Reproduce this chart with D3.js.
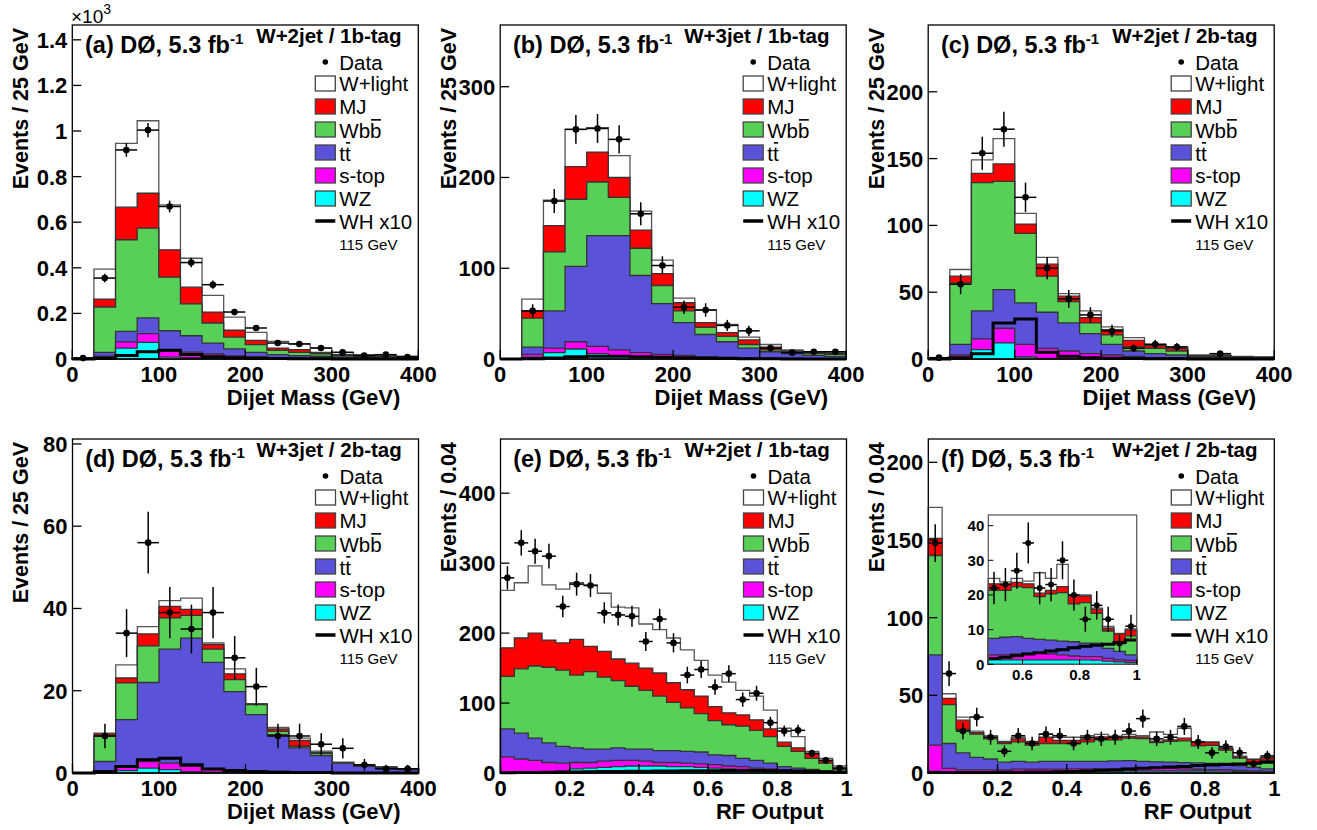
<!DOCTYPE html>
<html><head><meta charset="utf-8">
<script src="https://cdn.jsdelivr.net/npm/d3@7"></script>
<style>
body{margin:0;background:#fff}
svg{display:block}
text{font-family:"Liberation Sans",Arial,Helvetica,sans-serif}
</style>
</head><body>
<svg id="c" width="1317" height="830"></svg>
<script>
// ---------------- DATA ----------------
const massEdges = [0,25,50,75,100,125,150,175,200,225,250,275,300,325,350,375,400];
const rfEdges = [0,0.04,0.08,0.12,0.16,0.2,0.24,0.28,0.32,0.36,0.4,0.44,0.48,0.52,0.56,0.6,0.64,0.68,0.72,0.76,0.8,0.84,0.88,0.92,0.96,1];

const legendLabels = ["Data","W+light","MJ","Wbb","tt","s-top","WZ","WH x10","115 GeV"];

// (a) W+2jet / 1b-tag, dijet mass
const aWZ     = [0,5,48,73,8,6,4,3,2,1,1,1,0,0,0,0];
const aSTop   = [0,7,27,38,27,24,18,11,8,5,4,3,3,2,1,1];
const aTT     = [1,17,46,69,89,72,48,30,19,13,10,8,6,4,4,3];
const aWbb    = [1,199,402,394,235,140,88,52,34,19,14,11,6,4,3,3];
const aMJ     = [1,35,143,153,120,73,48,30,19,10,12,6,4,3,2,2];
const aWlight = [1,131,280,318,197,127,73,58,35,29,25,19,10,6,5,3];
const aWH     = [0,3,15,32,38,20,10,5,3,2,1,1,0.5,0,0,0];
const aData   = [4,355,917,1004,669,423,326,206,136,70,66,48,29,15,19,9];

// (b) W+3jet / 1b-tag
const bWZ     = [0,2,7,11,6,3,2,1,1,0,0,0,0,0,0,0];
const bSTop   = [0,3,5,8,8,7,5,4,3,2,2,1,1,1,0,0];
const bTT     = [0,8,41,83,122,126,85,56,36,25,17,11,7,5,4,3];
const bWbb    = [0,32,65,74,59,42,30,20,13,8,6,4,2,2,2,2];
const bMJ     = [0,8,29,36,33,22,20,13,9,5,4,5,3,1,1,1];
const bWlight = [0,13,28,41,27,24,21,15,5,14,9,3,3,1,1,1];
const bWH     = [0,0.3,1,2.5,3,3,2.5,2,1.5,1,0.5,0.3,0.2,0.1,0,0];
const bData   = [0,53,174,253,254,242,160,103,57,54,37,31,12,7,8,8];

// (c) W+2jet / 2b-tag
const cWZ     = [0,1,7,12,1.5,0.5,0.3,0.2,0.1,0,0,0,0,0,0,0];
const cSTop   = [0,2,8,11,9.5,7.5,5.7,3.8,2.9,2,1,1,0.5,0.5,0.3,0.2];
const cTT     = [0,8,21,29,31,27,21,15,8,4,3,2,1,1,0.7,0.5];
const cWbb    = [0,46,96,81,52,27,16,8,7,3,4,3,0.5,0.5,0.5,0.3];
const cMJ     = [0,5,7,13,7,9,4,4,4,5,2,2,0.5,0.5,0.3,0.3];
const cWlight = [1,5,10,19,8,5,2,5,2,2,1,1,0.5,0.5,0.2,0.2];
const cWH     = [0,1,4,27,30,5,2,1,0.5,0.3,0.2,0.1,0,0,0,0];
const cData   = [1,56,154,172,121,68,45,33,21,8,11,9,0,4,0,0];

// (d) W+3jet / 2b-tag
const dWZ     = [0,0.2,0.6,1.2,0.8,0.3,0.2,0.1,0.1,0,0,0,0,0,0,0];
const dSTop   = [0,0.3,1.2,1.6,1.6,1.3,0.8,0.7,0.4,0.4,0.3,0.2,0.1,0.1,0.1,0];
const dTT     = [0,2.3,11.2,19.2,27.7,31.2,25.9,19,13.7,8.9,5.8,4,2.3,1.5,1.1,0.8];
const dWbb    = [0,6.1,8.9,8.9,7.6,5.5,3.2,2.9,2.4,0.8,0.4,0.5,0.1,0.1,0.1,0.1];
const dMJ     = [0,0.6,1.2,2.9,2.8,1.5,1.1,1.4,0.2,0.6,1.4,0.3,0.1,0.1,0.2,0.1];
const dWlight = [0,0.2,3.2,1.8,1.4,2.7,0.4,1.2,0,0.4,0.6,0.3,0,0,0,0];
const dWH     = [0,0.3,1.6,3.2,3.6,2.0,1.0,0.6,0.3,0.2,0.1,0.1,0,0,0,0];
const dData   = [0,9,34,56,39,35,39,28,21,9,9,7,6,2,1,1];

// (e) W+2jet / 1b-tag, RF output
const eWZ     = [1,1,1.5,2,3,6,7,8,9,10,10,10,9,9,8,7,6,5,4,3,2,1.5,1,0.5,0.3];
const eSTop   = [22,19,16.5,13,11,9,8,9,9,8,7,5,6,5,5,5,4,4,3,3,2,1,0.5,0.5,0.2];
const eTT     = [40,37,32,28,24,21,19,17,18,16,17,17,17,17,17,14,15,12,11,8,5,4.5,3.5,1.5,0.7];
const eWbb    = [75,92,103,108,109,104,111,103,96,90,84,78,69,62,55,49,44,46,43,38,29,24,16,11.5,3.8];
const eMJ     = [41,44,47,39,39,51,36,37,31,33,32,33,28,26,25,20,17,16,15,11,6,5,7,4,2];
const eWlight = [82,79,96,79,77,81,88,83,74,79,63,62,64,57,51,45,44,35,34,27,20,16,3,3,3];
const eWH     = [0.5,0.6,0.8,1,1.2,1.5,1.8,2,2.2,2.4,2.6,2.8,3,3.1,3.2,3.3,3.4,3.4,3.4,3.3,3.1,2.8,2.4,1.8,1.2];
const eData   = [279,329,317,310,238,270,268,229,226,224,188,220,186,140,148,123,142,105,114,72,60,61,28,18,7];

// (f) W+2jet / 2b-tag, RF output
const fWZ     = [1,0.5,0.5,0.5,0.5,0.5,0.5,0.5,0.8,1,1,1.2,1.3,1.3,1.3,1.3,1.3,1.3,1.3,1.3,1.3,1.2,0.9,0.7,0.5];
const fSTop   = [17,2.5,1.5,1.5,1.5,1.5,2,2,1.7,1.5,1.7,1.5,1.4,1.4,1.7,1.9,1.9,1.7,1.4,1.1,0.9,1.0,0.8,0.6,0.6];
const fTT     = [58,16,11,8,7,5,5,4.5,5,5,4.8,4.8,4.8,5.1,5.0,4.3,4.0,4.0,4.0,4.1,3.9,3.9,2.9,2.4,1.6];
const fWbb    = [64,25,15,15,13,12,12.5,11,11.5,11.5,11.5,12.5,13.8,13.5,14.4,14.6,12.3,13.3,14.0,10.9,11.7,8.6,5.0,2.4,5.5];
const fMJ     = [11,4,6,1,1,1,2,2,4,2,2,2,1.9,1.9,1.2,1.1,1.0,1.0,1.7,2.3,1.9,1.2,0.8,2.7,1.7];
const fWlight = [20,3,2,1,1,0.3,1,0.3,2,2,2,2,1.6,0.6,1.2,0.8,5.9,3.5,6.4,0.3,0.3,0.3,0.5,0.1,0.3];
const fWH     = [0.3,0.3,0.3,0.4,0.4,0.5,0.5,0.6,0.7,0.8,1.0,1.3,1.7,2.0,2.5,3.0,3.3,3.8,4.2,4.8,5.2,5.5,5.8,6.3,7.0];
const fData   = [148,64,27,36,23,14,24,19,25,24,19,23,22,23,27,35,22,23,30,20,13,17,13,6,11];

const massTicks = [0,100,200,300,400];
const rfTicks = [0,0.2,0.4,0.6,0.8,1];
const insetXTicks = [0.6,0.8,1];
const insetYTicks = [0,10,20,30,40];

// ---------------- STYLE ----------------
const keys = ["wz","stop","tt","wbb","mj","wl"];
const fills = {wz:"#00ffff", stop:"#ff00ff", tt:"#5a52d8", wbb:"#58d058", mj:"#ff0000", wl:"#ffffff"};

const svg = d3.select("#c");
svg.append("rect").attr("width",1317).attr("height",830).attr("fill","#fff");

function mkLayers(wz,st,tt,wbb,mj,wl){return {wz,stop:st,tt,wbb,mj,wl};}

function drawStack(g, x, y, edges, L, wh, data, i0, i1, opt){
  opt = opt || {};
  const rows = d3.range(i0,i1).map(i => {
    const r = {x0: edges[i], x1: edges[i+1]};
    keys.forEach(k => r[k] = L[k][i]);
    return r;
  });
  const series = d3.stack().keys(keys)(rows);
  const area = d3.area().x(p => x(p[0])).y0(y(0)).y1(p => y(p[1]));
  series.slice().reverse().forEach(s => {
    const pts = [];
    s.forEach(d => { pts.push([d.data.x0, d[1]]); pts.push([d.data.x1, d[1]]); });
    g.append("path").attr("d", area(pts))
      .attr("fill", fills[s.key])
      .attr("stroke", s.key === "wl" ? "#555" : "#333")
      .attr("stroke-width", 1.3);
  });
  const line = d3.line().x(p => x(p[0])).y(p => y(p[1]));
  const wpts = [];
  d3.range(i0,i1).forEach(i => { wpts.push([edges[i], wh[i]]); wpts.push([edges[i+1], wh[i]]); });
  g.append("path").attr("d", line(wpts)).attr("fill","none").attr("stroke","#000").attr("stroke-width",3);
  const r = opt.r || 3.3;
  d3.range(i0,i1).forEach(i => {
    const v = data[i];
    if (!(v > 0)) return;
    const e = Math.sqrt(v);
    const xc = x((edges[i]+edges[i+1])/2);
    g.append("line").attr("x1",x(edges[i])).attr("x2",x(edges[i+1])).attr("y1",y(v)).attr("y2",y(v))
      .attr("stroke","#000").attr("stroke-width",1.5);
    g.append("line").attr("x1",xc).attr("x2",xc).attr("y1",y(Math.max(0,v-e))).attr("y2",y(v+e))
      .attr("stroke","#000").attr("stroke-width",1.5);
    g.append("circle").attr("cx",xc).attr("cy",y(v)).attr("r",r).attr("fill","#000");
  });
}

function barText(g, x, yb, label, size){
  const t = g.append("text").attr("x",x).attr("y",yb).attr("font-size",size).text(label);
  const n = label.length;
  const node = t.node();
  const w0 = node.getSubStringLength(0, n-1);
  const w1 = node.getSubStringLength(n-1, 1);
  const by = yb - size*0.86;
  g.append("line").attr("x1",x+w0+1).attr("x2",x+w0+w1-0.5).attr("y1",by).attr("y2",by)
    .attr("stroke","#000").attr("stroke-width",1.6);
}

function legend(g, left, top){
  const bx = left + 243, tx = left + 267, fs = 20.5;
  g.append("circle").attr("cx",bx+10).attr("cy",top+37).attr("r",2.8).attr("fill","#000");
  g.append("text").attr("x",tx).attr("y",top+44.5).attr("font-size",fs).text(legendLabels[0]);
  const boxKeys = ["wl","mj","wbb","tt","stop","wz"];
  boxKeys.forEach((k,i) => {
    const byy = top + 51 + 23*i;
    g.append("rect").attr("x",bx).attr("y",byy).attr("width",20).attr("height",15)
      .attr("fill",fills[k]).attr("stroke","#444").attr("stroke-width",1.3);
    if (k === "wbb" || k === "tt") barText(g, tx, byy+15.5, legendLabels[i+1], fs);
    else g.append("text").attr("x",tx).attr("y",byy+15).attr("font-size",fs).text(legendLabels[i+1]);
  });
  const yWH = top + 51 + 23*6 + 7;
  g.append("line").attr("x1",bx).attr("x2",bx+20).attr("y1",yWH).attr("y2",yWH).attr("stroke","#000").attr("stroke-width",3.5);
  g.append("text").attr("x",tx).attr("y",yWH+8).attr("font-size",fs).text(legendLabels[7]);
  g.append("text").attr("x",tx).attr("y",top+225).attr("font-size",15).text(legendLabels[8]);
}

function panel(p){
  const W = 346, H = 334;
  const g = svg.append("g");
  const x = d3.scaleLinear().domain(p.xDomain).range([p.left, p.left+W]);
  const y = d3.scaleLinear().domain([0, p.yMax]).range([p.top+H, p.top]);
  const n = p.edges.length - 1;
  drawStack(g, x, y, p.edges, p.layers, p.wh, p.data, 0, n);
  g.append("rect").attr("x",p.left).attr("y",p.top).attr("width",W).attr("height",H)
    .attr("fill","none").attr("stroke","#000").attr("stroke-width",1.3);
  p.yTicks.forEach(t => {
    g.append("line").attr("x1",p.left).attr("x2",p.left+9).attr("y1",y(t)).attr("y2",y(t)).attr("stroke","#000").attr("stroke-width",1.3);
    g.append("text").attr("x",p.left-5).attr("y",y(t)).attr("dy","0.36em").attr("text-anchor","end")
      .attr("font-size",22).attr("font-weight","bold").text(p.yFmt(t));
  });
  p.xTicks.forEach(t => {
    g.append("line").attr("x1",x(t)).attr("x2",x(t)).attr("y1",p.top+H).attr("y2",p.top+H-9).attr("stroke","#000").attr("stroke-width",1.3);
    g.append("text").attr("x",x(t)).attr("y",p.top+H+22.5).attr("text-anchor","middle")
      .attr("font-size",22).attr("font-weight","bold").text(p.xFmt(t));
  });
  g.append("text").attr("x",p.left+W-p.xTitleOff).attr("y",p.top+H+46).attr("text-anchor","end")
    .attr("font-size",22).attr("font-weight","bold").text(p.xTitle);
  g.append("text").attr("transform",`translate(${p.left-44.5},${p.top+3}) rotate(-90)`).attr("text-anchor","end")
    .attr("font-size",21.5).attr("font-weight","bold").text(p.yTitle);
  const tt = g.append("text").attr("x",p.left+12.7).attr("y",p.top+28).attr("font-size",23.5).attr("font-weight","bold");
  tt.append("tspan").text(p.label + " DØ, 5.3 fb");
  tt.append("tspan").attr("dy",-9).attr("font-size",15).text("-1");
  g.append("text").attr("x",p.left+184).attr("y",p.top+18).attr("font-size",20.5).attr("font-weight","bold").text(p.sub);
  legend(g, p.left, p.top);
  return {g,x,y};
}

const fmtInt = d => String(d);
const fmtK = d => String(+(d/1000).toFixed(1));
const fmtRF = d => String(+d.toFixed(1));

panel({left:72.3, top:25, edges:massEdges, xDomain:[0,400], yMax:1465, yTicks:[0,200,400,600,800,1000,1200,1400], yFmt:fmtK,
  xTicks:massTicks, xFmt:fmtInt, layers:mkLayers(aWZ,aSTop,aTT,aWbb,aMJ,aWlight), wh:aWH, data:aData,
  label:"(a)", sub:"W+2jet / 1b-tag", xTitle:"Dijet Mass (GeV)", xTitleOff:18, yTitle:"Events / 25 GeV"});
panel({left:500.2, top:25, edges:massEdges, xDomain:[0,400], yMax:368, yTicks:[0,100,200,300], yFmt:fmtInt,
  xTicks:massTicks, xFmt:fmtInt, layers:mkLayers(bWZ,bSTop,bTT,bWbb,bMJ,bWlight), wh:bWH, data:bData,
  label:"(b)", sub:"W+3jet / 1b-tag", xTitle:"Dijet Mass (GeV)", xTitleOff:18, yTitle:"Events / 25 GeV"});
panel({left:928.2, top:25, edges:massEdges, xDomain:[0,400], yMax:250, yTicks:[0,50,100,150,200], yFmt:fmtInt,
  xTicks:massTicks, xFmt:fmtInt, layers:mkLayers(cWZ,cSTop,cTT,cWbb,cMJ,cWlight), wh:cWH, data:cData,
  label:"(c)", sub:"W+2jet / 2b-tag", xTitle:"Dijet Mass (GeV)", xTitleOff:18, yTitle:"Events / 25 GeV"});
panel({left:72.5, top:439, edges:massEdges, xDomain:[0,400], yMax:81.2, yTicks:[0,20,40,60,80], yFmt:fmtInt,
  xTicks:massTicks, xFmt:fmtInt, layers:mkLayers(dWZ,dSTop,dTT,dWbb,dMJ,dWlight), wh:dWH, data:dData,
  label:"(d)", sub:"W+3jet / 2b-tag", xTitle:"Dijet Mass (GeV)", xTitleOff:18, yTitle:"Events / 25 GeV"});
panel({left:500.5, top:439, edges:rfEdges, xDomain:[0,1], yMax:477.5, yTicks:[0,100,200,300,400], yFmt:fmtInt,
  xTicks:rfTicks, xFmt:fmtRF, layers:mkLayers(eWZ,eSTop,eTT,eWbb,eMJ,eWlight), wh:eWH, data:eData,
  label:"(e)", sub:"W+2jet / 1b-tag", xTitle:"RF Output", xTitleOff:23, yTitle:"Events / 0.04"});
const fLayers = mkLayers(fWZ,fSTop,fTT,fWbb,fMJ,fWlight);
panel({left:928.3, top:439, edges:rfEdges, xDomain:[0,1], yMax:215, yTicks:[0,50,100,150,200], yFmt:fmtInt,
  xTicks:rfTicks, xFmt:fmtRF, layers:fLayers, wh:fWH, data:fData,
  label:"(f)", sub:"W+2jet / 2b-tag", xTitle:"RF Output", xTitleOff:23, yTitle:"Events / 0.04"});

const xt = svg.append("text").attr("x",71).attr("y",22.5).attr("font-size",19);
xt.append("tspan").text("×10");
xt.append("tspan").attr("dy",-9).attr("font-size",14).text("3");

(function(){
  const L = 988.3, R = 1136.7, T = 515, B = 664.3;
  const g = svg.append("g");
  g.append("rect").attr("x",L).attr("y",T).attr("width",R-L).attr("height",B-T).attr("fill","#fff");
  const x = d3.scaleLinear().domain([0.48,1]).range([L,R]);
  const y = d3.scaleLinear().domain([0,43.06]).range([B,T]);
  drawStack(g, x, y, rfEdges, fLayers, fWH, fData, 12, 25, {r:3});
  g.append("rect").attr("x",L).attr("y",T).attr("width",R-L).attr("height",B-T)
    .attr("fill","none").attr("stroke","#555").attr("stroke-width",1.2);
  insetYTicks.forEach(t => {
    g.append("line").attr("x1",L).attr("x2",L+5).attr("y1",y(t)).attr("y2",y(t)).attr("stroke","#000");
    g.append("text").attr("x",L-4).attr("y",y(t)).attr("dy","0.36em").attr("text-anchor","end")
      .attr("font-size",15).attr("font-weight","bold").text(String(t));
  });
  insetXTicks.forEach(t => {
    g.append("line").attr("x1",x(t)).attr("x2",x(t)).attr("y1",B).attr("y2",B-5).attr("stroke","#000");
    g.append("text").attr("x",x(t)).attr("y",B+16).attr("text-anchor","middle")
      .attr("font-size",15).attr("font-weight","bold").text(String(t));
  });
})();
</script>
</body></html>
